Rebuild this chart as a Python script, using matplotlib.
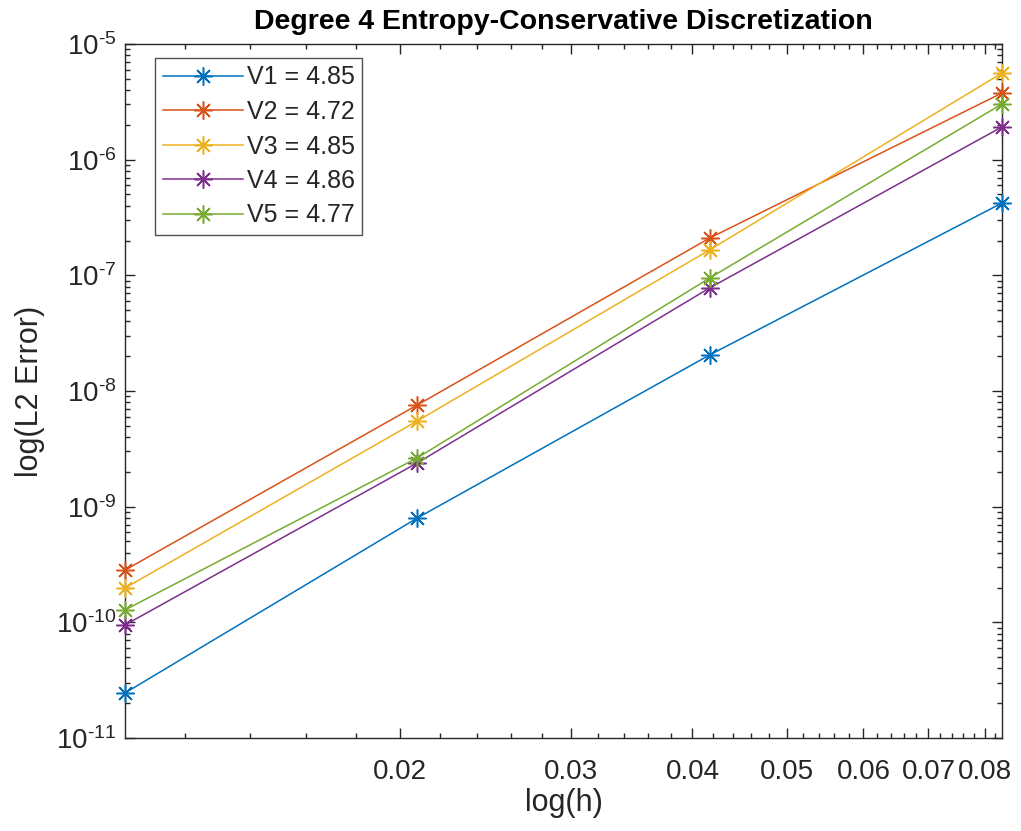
import numpy as np
import matplotlib
matplotlib.use("Agg")
import matplotlib.pyplot as plt
from matplotlib.ticker import FixedLocator, FixedFormatter, NullFormatter

# Mesh sizes and L2 errors for each variant
h = [1/96, 1/48, 1/24, 1/12]
err_v1 = [2.45e-11, 7.98e-10, 2.05e-8, 4.22e-7]
err_v2 = [2.83e-10, 7.57e-9, 2.10e-7, 3.77e-6]
err_v3 = [1.98e-10, 5.51e-9, 1.66e-7, 5.61e-6]
err_v4 = [9.49e-11, 2.39e-9, 7.78e-8, 1.92e-6]
err_v5 = [1.28e-10, 2.64e-9, 9.48e-8, 3.03e-6]
labels = ["V1 = 4.85", "V2 = 4.72", "V3 = 4.85", "V4 = 4.86", "V5 = 4.77"]

x_ticks = [0.02, 0.03, 0.04, 0.05, 0.06, 0.07, 0.08]
x_tick_labels = ["0.02", "0.03", "0.04", "0.05", "0.06", "0.07", "0.08"]
y_exponents = [-11, -10, -9, -8, -7, -6, -5]

colors = ["#0072BD", "#D95319", "#EDB120", "#7E2F8E", "#77AC30"]
ink = "#262626"

plt.rcParams["font.family"] = ["Liberation Sans", "DejaVu Sans"]
plt.rcParams["mathtext.fontset"] = "custom"
plt.rcParams["mathtext.rm"] = "Liberation Sans"
plt.rcParams["mathtext.it"] = "Liberation Sans"

fig = plt.figure(figsize=(10.21, 8.31), dpi=100)
ax = fig.add_axes([125/1021, 1 - 738/831, (1002 - 125)/1021, (738 - 44)/831])

asterisk = (8, 2, 0)
for err, lab, c in zip([err_v1, err_v2, err_v3, err_v4, err_v5], labels, colors):
    ax.plot(h, err, color=c, lw=1.1, marker=asterisk, ms=13, mew=1.1,
            label=lab, clip_on=False, zorder=3)

ax.set_xscale("log")
ax.set_yscale("log")
ax.set_xlim(h[0], h[-1])
ax.set_ylim(10.0**y_exponents[0], 10.0**y_exponents[-1])

ax.xaxis.set_major_locator(FixedLocator(x_ticks))
ax.xaxis.set_major_formatter(FixedFormatter(x_tick_labels))
minor_x = [v for v in np.round(np.arange(0.010, 0.084, 0.002), 3)
           if all(abs(v - t) > 1e-9 for t in x_ticks)]
ax.xaxis.set_minor_locator(FixedLocator(minor_x))
ax.xaxis.set_minor_formatter(NullFormatter())

y_major = [10.0**e for e in y_exponents]
ax.yaxis.set_major_locator(FixedLocator(y_major))
ax.yaxis.set_major_formatter(FixedFormatter(
    [r"$\mathdefault{10^{\text{-}%d}}$" % (-e) for e in y_exponents]))
minor_y = [m * 10.0**e for e in y_exponents[:-1] for m in range(2, 10)]
ax.yaxis.set_minor_locator(FixedLocator(minor_y))
ax.yaxis.set_minor_formatter(NullFormatter())

ax.tick_params(which="both", direction="in", top=True, right=True,
               colors=ink, labelcolor=ink, width=1.0, labelsize=20)
ax.tick_params(which="major", length=7)
ax.tick_params(which="minor", length=3.5)
ax.tick_params(axis="x", pad=15)
ax.tick_params(axis="y", pad=6)
for s in ax.spines.values():
    s.set_color(ink)
    s.set_linewidth(1.0)

ax.set_title("Degree 4 Entropy-Conservative Discretization",
             fontsize=20.5, fontweight="bold", color="black", pad=11)
ax.set_xlabel("log(h)", fontsize=22, color=ink, labelpad=2)
ax.set_ylabel("log(L2 Error)", fontsize=22, color=ink, labelpad=8)

leg = ax.legend(loc="upper left", bbox_to_anchor=(30/877, 1 - 14/694),
                fontsize=18, frameon=True, fancybox=False, borderaxespad=0,
                handlelength=3.2, handletextpad=0.16, labelspacing=0.42,
                borderpad=0.3)
leg.get_frame().set_edgecolor(ink)
leg.get_frame().set_linewidth(1.0)
for t in leg.get_texts():
    t.set_color(ink)

fig.savefig("out.png", dpi=100, facecolor="white")
